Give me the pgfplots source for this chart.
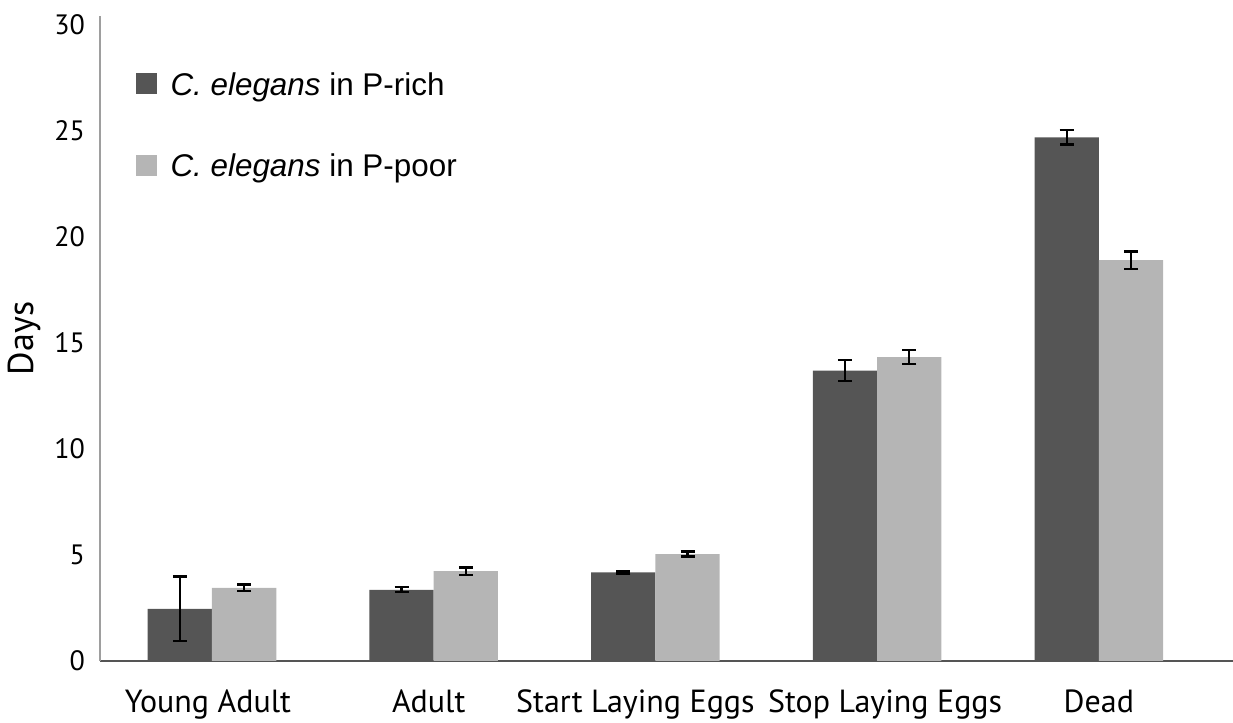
\documentclass[border=0pt]{standalone}
\usepackage{fontspec}
\setmainfont{PT Sans}
\newfontfamily\arialfont{Liberation Sans}
\usepackage{pgfplots}
\usepackage{pgfplotstable}
\pgfplotsset{compat=1.18}
\definecolor{rich}{HTML}{555555}
\definecolor{poor}{HTML}{B5B5B5}
\pgfplotstableread{
x y err
-0.145 2.46 1.53
0.855 3.36 0.12
1.855 4.18 0.06
2.855 13.70 0.50
3.855 24.70 0.34
}\richtab
\pgfplotstableread{
x y err
0.145 3.45 0.16
1.145 4.24 0.17
2.145 5.04 0.12
3.145 14.33 0.33
4.145 18.91 0.41
}\poortab
\begin{document}
\begin{tikzpicture}
\useasboundingbox (-50pt,-31pt) rectangle (566.5pt,330.5pt);
\begin{axis}[
  scale only axis,
  width=566.5pt, height=322.5pt,
  at={(0,0)}, anchor=south west,
  xmin=-0.505, xmax=4.605, ymin=0, ymax=30.42,
  axis x line*=bottom, axis y line*=left,
  x axis line style={draw=rich, line width=1pt, -},
  y axis line style={draw=black!38, line width=1pt, -},
  major tick length=0pt,
  xtick={0,1,2,3,4},
  xticklabels={\hspace*{-4pt}Young Adult, \hspace*{-5pt}Adult, \hspace*{-20pt}Start Laying Eggs, \hspace*{8pt}Stop Laying Eggs, Dead},
  ytick={0,5,...,30},
  yticklabel style={font=\fontsize{14}{16}\selectfont, text=black, xshift=-4pt},
  xticklabel style={font=\fontsize{16}{18}\selectfont, text=black, yshift=-11pt},
  /pgf/number format/assume math mode=true,
  ylabel={Days},
  ylabel style={font=\fontsize{18}{20}\selectfont, at={(ticklabel cs:0.5)}, xshift=0pt},
  bar width=0.29,
  legend cell align=left,
  legend style={draw=none, fill=none, at={(0.031,0.913)}, anchor=north west,
    inner sep=0pt, row sep=29.2pt, font=\arialfont\fontsize{15.7}{18}\selectfont,
    nodes={inner sep=0pt, text depth=0pt}},
  legend image code/.code={\fill[#1] (0pt,-5.25pt) rectangle (10.5pt,5.25pt); \path (17.5pt,0pt);},
  error bars/error bar style={line width=1.2pt, black},
  error bars/error mark options={rotate=90, mark size=3.5pt, line width=1.2pt, black},
]
\addplot[ybar, bar shift=0, fill=rich, draw=none,
  error bars/.cd, y dir=both, y explicit]
  table[x=x, y=y, y error=err] {\richtab};
\addlegendentry{\textit{C. elegans} in P-rich}
\addplot[ybar, bar shift=0, fill=poor, draw=none,
  error bars/.cd, y dir=both, y explicit]
  table[x=x, y=y, y error=err] {\poortab};
\addlegendentry{\textit{C. elegans} in P-poor}
\end{axis}
\end{tikzpicture}
\end{document}
